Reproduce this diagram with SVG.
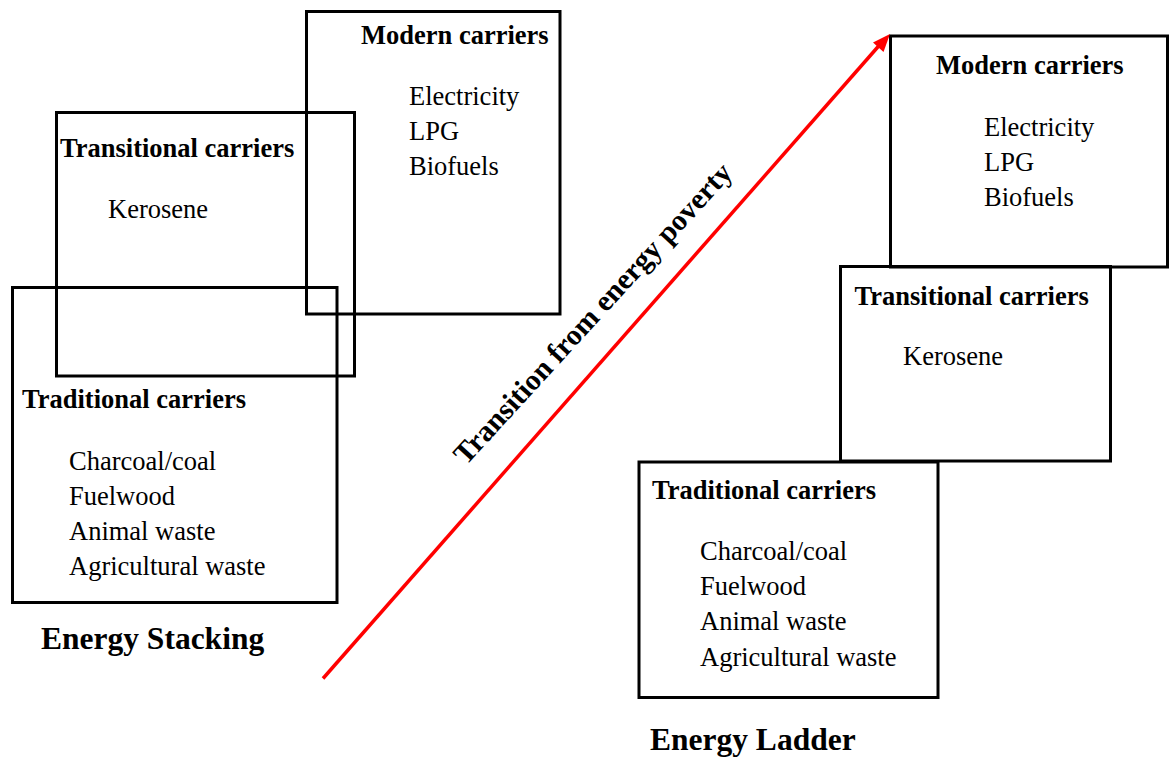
<svg xmlns="http://www.w3.org/2000/svg" width="1170" height="758" viewBox="0 0 1170 758">
<style>
.box{fill:none;stroke:#000;stroke-width:3;stroke-linejoin:miter}
.h{font-family:"Liberation Serif","Times New Roman",serif;font-weight:bold;font-size:26.5px;fill:#000}
.t{font-family:"Liberation Serif","Times New Roman",serif;font-size:26.5px;fill:#000}
.big{font-family:"Liberation Serif","Times New Roman",serif;font-weight:bold;font-size:31.5px;fill:#000}
.rot{font-family:"Liberation Serif","Times New Roman",serif;font-weight:bold;font-size:29.5px;fill:#000}
</style>
<rect width="1170" height="758" fill="#fff"/>
<g id="stack-modern">
<rect class="box" x="306.5" y="11.5" width="253.5" height="302.5"/>
<text class="h" x="361" y="44">Modern carriers</text>
<text class="t" x="409" y="105">Electricity</text>
<text class="t" x="409" y="140">LPG</text>
<text class="t" x="409" y="175">Biofuels</text>
</g>
<g id="stack-transitional">
<rect class="box" x="56.5" y="112.5" width="298" height="263.5"/>
<text class="h" x="60" y="157">Transitional carriers</text>
<text class="t" x="108" y="218">Kerosene</text>
</g>
<g id="stack-traditional">
<rect class="box" x="12.5" y="287.5" width="324.5" height="315"/>
<text class="h" x="22" y="408">Traditional carriers</text>
<text class="t" x="69" y="470">Charcoal/coal</text>
<text class="t" x="69" y="505">Fuelwood</text>
<text class="t" x="69" y="540">Animal waste</text>
<text class="t" x="69" y="575">Agricultural waste</text>
</g>
<g id="stack-title">
<text class="big" x="41" y="649">Energy Stacking</text>
</g>
<g id="ladder-modern">
<rect class="box" x="890.5" y="36" width="277" height="231"/>
<text class="h" x="936" y="74">Modern carriers</text>
<text class="t" x="984" y="136">Electricity</text>
<text class="t" x="984" y="171">LPG</text>
<text class="t" x="984" y="206">Biofuels</text>
</g>
<g id="ladder-transitional">
<rect class="box" x="840.5" y="266.5" width="270" height="194.5"/>
<text class="h" x="854.5" y="305">Transitional carriers</text>
<text class="t" x="903" y="365">Kerosene</text>
</g>
<g id="ladder-traditional">
<rect class="box" x="639" y="462" width="299" height="235.5"/>
<text class="h" x="652" y="499">Traditional carriers</text>
<text class="t" x="700" y="560">Charcoal/coal</text>
<text class="t" x="700" y="595">Fuelwood</text>
<text class="t" x="700" y="630">Animal waste</text>
<text class="t" x="700" y="666">Agricultural waste</text>
</g>
<g id="ladder-title">
<text class="big" x="650" y="750">Energy Ladder</text>
</g>
<g id="connectors">
<line x1="323" y1="678.5" x2="880" y2="44.5" stroke="#ff0000" stroke-width="3.5"/>
<polygon points="890,34 883.5,52 873,42.5" fill="#ff0000"/>
<text class="rot" transform="translate(466,466) rotate(-47.5)">Transition from energy poverty</text>
</g>
</svg>
